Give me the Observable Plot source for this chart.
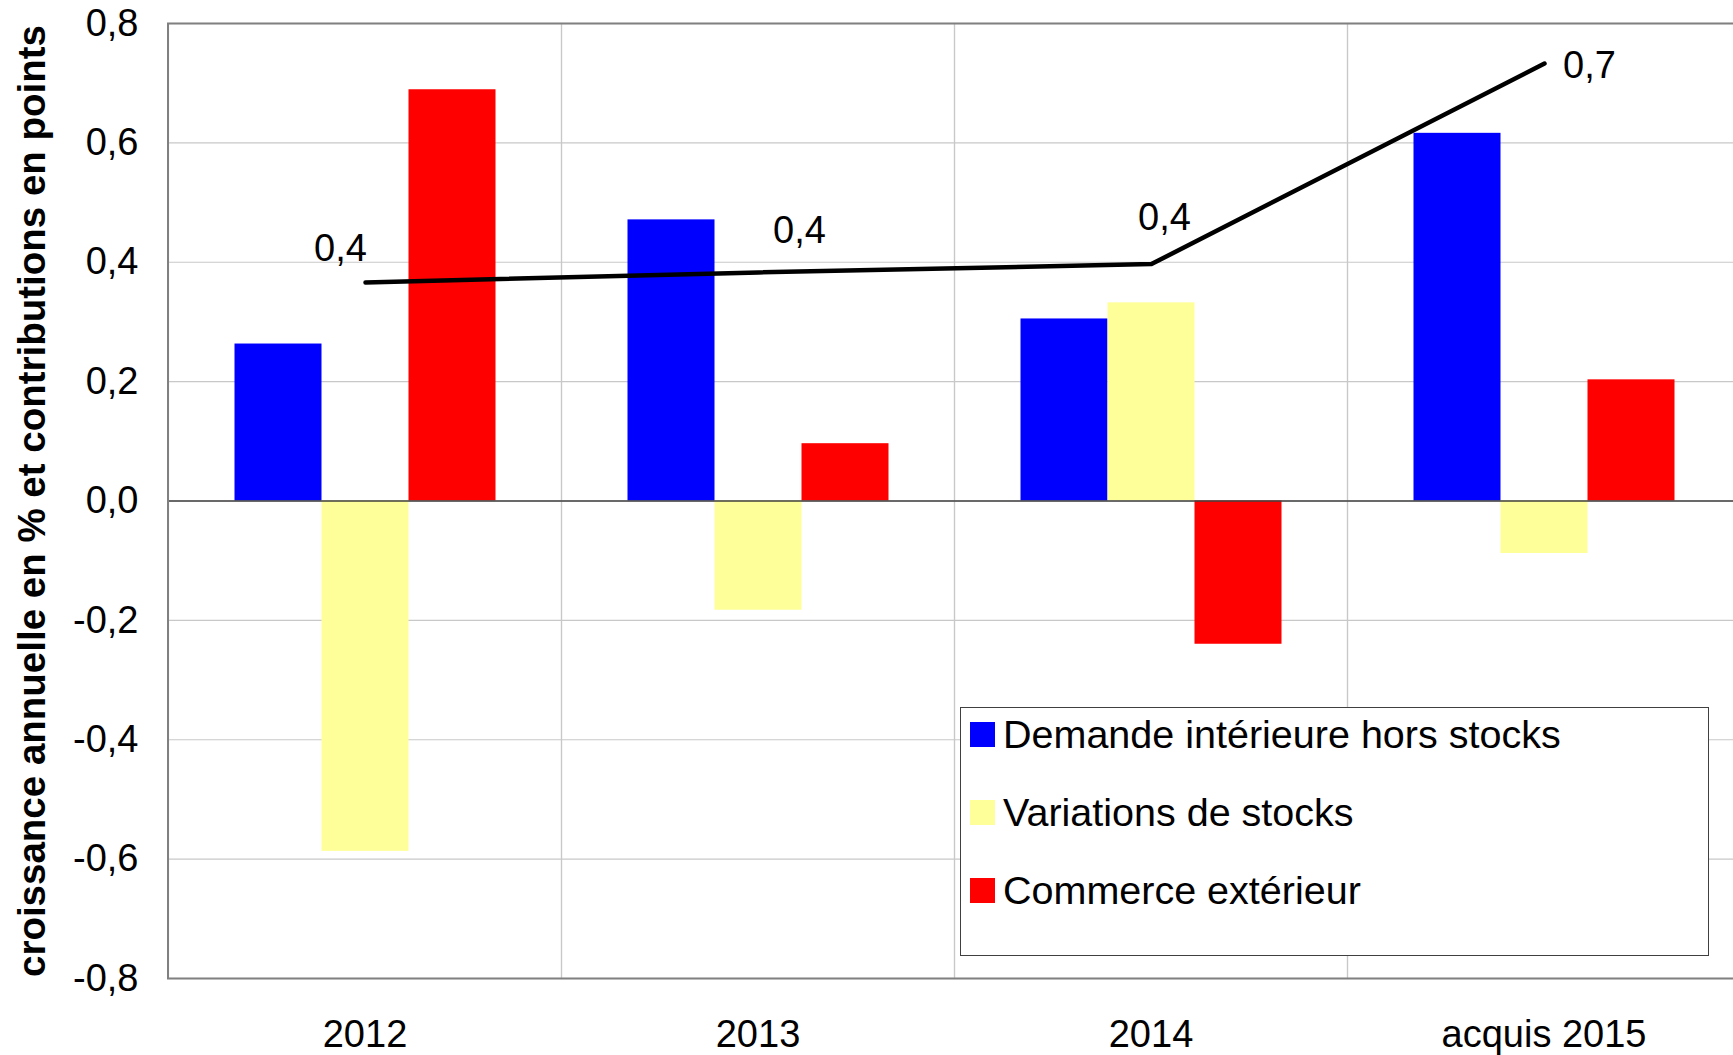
<!DOCTYPE html>
<html>
<head>
<meta charset="utf-8">
<script src="https://cdn.jsdelivr.net/npm/d3@7"></script>
<script src="https://cdn.jsdelivr.net/npm/@observablehq/plot@0.6"></script>
<style>
  html, body { margin: 0; padding: 0; background: #fff; overflow: hidden; }
  #chart { position: relative; width: 1733px; height: 1055px; font-family: "Liberation Sans", Arial, sans-serif; }
  #chart svg { position: absolute; left: 0; top: 0; max-width: none; }
  .legend { position: absolute; left: 960px; top: 707px; width: 749px; height: 249px; box-sizing: border-box;
            border: 1.5px solid #404040; background: #fff; padding-top: 6px; padding-left: 9px;
            display: flex; flex-direction: column; gap: 38px; }
  .legend .item { display: flex; align-items: center; height: 40px; font-size: 39.5px; color: #000; white-space: nowrap; }
  .legend .sw { width: 25px; height: 25px; margin-right: 8px; flex: none; }
</style>
</head>
<body>
<div id="chart"></div>
<script>
// ---- data ----
const categories = ["2012", "2013", "2014", "acquis 2015"];
const series = ["Demande intérieure hors stocks", "Variations de stocks", "Commerce extérieur"];
const demande = [0.263, 0.471, 0.305, 0.616];
const stocks = [-0.587, -0.183, 0.332, -0.088];
const commerce = [0.689, 0.096, -0.240, 0.203];
const pib = [0.366, 0.383, 0.397, 0.733];
const yTicks = [-0.8, -0.6, -0.4, -0.2, 0, 0.2, 0.4, 0.6, 0.8];
const yTitle = "croissance annuelle en % et contributions en points";
const colors = ["#0000FF", "#FFFF99", "#FF0000"];

// ---- tables built from arrays ----
const seriesValues = [demande, stocks, commerce];
const rows = categories.flatMap((c, i) => series.map((s, j) => ({cat: c, serie: s, value: seriesValues[j][i]})));
const lineRows = categories.map((c, i) => ({cat: c, pib: pib[i]}));
const fmt = d => d.toFixed(1).replace(".", ",");

// ---- layout ----
const W = 1733, H = 1055;
const M = {marginLeft: 167.5, marginRight: -8, marginTop: 23, marginBottom: 77};
const yDomain = [-0.8, 0.8];
const font = "'Liberation Sans', Arial, sans-serif";

const chart = document.getElementById("chart");

// Layer 1: grid, axes, bars (faceted by category)
const bars = Plot.plot({
  width: W, height: H, ...M,
  style: {fontFamily: font, fontSize: "38px", color: "#000", background: "transparent"},
  facet: {data: rows, x: "cat"},
  fx: {domain: categories, padding: 0, axis: "bottom", tickSize: 0, tickPadding: 42, label: null},
  x: {domain: series, paddingInner: 0, paddingOuter: 0.735, axis: null},
  y: {domain: yDomain, ticks: yTicks, tickFormat: fmt, tickSize: 0, tickPadding: 30, label: null},
  color: {domain: series, range: colors},
  marks: [
    Plot.ruleY(yTicks, {stroke: "#c8c8c8", strokeWidth: 1.2}),
    Plot.frame({stroke: "#c8c8c8", strokeWidth: 1.2}),
    Plot.barY(rows, {x: "serie", y: "value", fill: "serie"})
  ]
});
chart.appendChild(bars);

// Layer 2: zero line, outer frame, GDP line and labels, y title
const offsets = [[-25, -33.6], [41, -42], [13, -46.7], [45, 2.6]];
const overlay = Plot.plot({
  width: W, height: H, ...M,
  style: {fontFamily: font, fontSize: "38px", color: "#000", background: "transparent"},
  x: {type: "point", domain: categories, padding: 0.5, axis: null},
  y: {domain: yDomain, axis: null},
  marks: [
    Plot.ruleY([0], {stroke: "#404040", strokeWidth: 1.5}),
    Plot.frame({stroke: "#808080", strokeWidth: 2}),
    Plot.line(lineRows, {x: "cat", y: "pib", stroke: "#000", strokeWidth: 4.5, strokeLinecap: "round", strokeLinejoin: "round"}),
    ...offsets.map(([dx, dy], k) => Plot.text(lineRows, {
      filter: (d, i) => i === k, x: "cat", y: "pib", text: d => fmt(d.pib),
      dx, dy, fontSize: 38, fill: "#000"
    })),
    Plot.text([yTitle], {frameAnchor: "left", textAnchor: "middle", rotate: -90, dx: -135, fontWeight: "bold", fontSize: 38.5, fill: "#000"})
  ]
});
chart.appendChild(overlay);

// Legend
const legend = document.createElement("div");
legend.className = "legend";
series.forEach((s, i) => {
  const item = document.createElement("div");
  item.className = "item";
  const sw = document.createElement("span");
  sw.className = "sw";
  sw.style.background = colors[i];
  item.appendChild(sw);
  item.appendChild(document.createTextNode(s));
  legend.appendChild(item);
});
chart.appendChild(legend);
</script>
</body>
</html>
